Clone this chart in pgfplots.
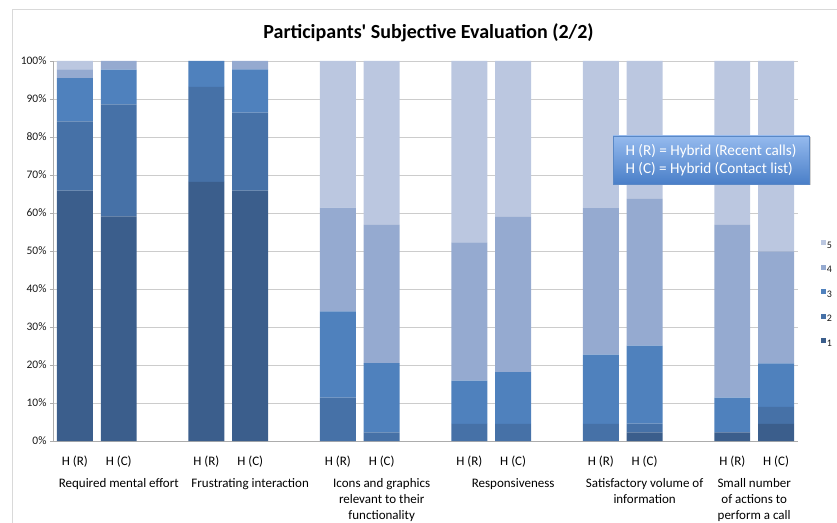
\documentclass[border=0pt]{standalone}
\usepackage{pgfplots}
\pgfplotsset{compat=1.18}
\usepackage{pgfplotstable}
\usepackage{fontspec}
\setmainfont{Carlito}
\usetikzlibrary{shadows}
\definecolor{c1}{HTML}{3B5E8C}
\definecolor{c2}{HTML}{4671A7}
\definecolor{c3}{HTML}{4F81BD}
\definecolor{c4}{HTML}{95AAD0}
\definecolor{c5}{HTML}{BBC7E0}
\definecolor{boxtop}{HTML}{95BAEE}
\definecolor{boxbot}{HTML}{4A7FC8}
\definecolor{boxline}{HTML}{5A88C6}

\pgfplotstableread{
x  l1   l2   l3   l4   l5
0  65.9 18.2 11.4 2.3  2.2
1  59.1 29.5 9.1  2.3  0
3  68.2 25.0 6.8  0    0
4  65.9 20.5 11.4 2.2  0
6  0    11.4 22.7 27.3 38.6
7  0    2.3  18.2 36.4 43.1
9  0    4.5  11.4 36.4 47.7
10 0    4.5  13.6 40.9 41.0
12 0    4.5  18.2 38.6 38.7
13 2.3  2.3  20.5 38.6 36.3
15 2.3  0    9.1  45.5 43.1
16 4.5  4.5  11.4 29.5 50.1
}\evaltable

\begin{document}
\begin{tikzpicture}
\useasboundingbox (0,0) rectangle (837bp,523bp);
\draw[gray!30, line width=0.8bp] (12bp,0) -- (12bp,514bp) -- (837bp,514bp);
\node[font=\bfseries\fontsize{20bp}{24bp}\selectfont] at (428.5bp,490bp) {Participants{\addfontfeature{Ligatures=TeXOff}'} Subjective Evaluation (2/2)};
\begin{axis}[
  at={(53bp,82bp)}, anchor=south west,
  width=745bp, height=380bp, scale only axis,
  xmin=-0.5, xmax=16.5, ymin=0, ymax=100,
  ybar stacked, bar width=0.82,
  clip=false,
  xtick={0,1,3,4,6,7,9,10,12,13,15,16},
  xticklabels={H (R),H (C),H (R),H (C),H (R),H (C),H (R),H (C),H (R),H (C),H (R),H (C)},
  x tick style={draw=none},
  ytick={0,10,...,100},
  yticklabel={\pgfmathprintnumber{\tick}\%},
  /pgf/number format/assume math mode=true,
  yticklabel style={font=\fontsize{11.5bp}{13bp}\selectfont, text=black!90},
  xticklabel style={font=\fontsize{13bp}{15bp}\selectfont, text=black, yshift=-8bp},
  axis x line*=bottom, axis y line*=left,
  axis line style={draw=gray!65, line width=0.8bp},
  y tick style={draw=gray!65, line width=0.8bp},
  tick align=outside, major tick length=3bp,
  ymajorgrids, major grid style={draw=gray!40, line width=0.9bp},
  legend image code/.code={\fill[#1] (0bp,0bp) rectangle (5bp,5bp);},
  legend style={at={(1.031,0.529)}, anchor=north west, draw=none, fill=none,
    font=\fontsize{10bp}{12bp}\selectfont, row sep=16bp, inner sep=0pt,
    nodes={inner sep=0.5bp, text height=6bp, text depth=0pt, text=black!90}},
  reverse legend,
]
\addplot[fill=c1, draw=none] table[x=x,y=l1] {\evaltable};
\addplot[fill=c2, draw=none] table[x=x,y=l2] {\evaltable};
\addplot[fill=c3, draw=none] table[x=x,y=l3] {\evaltable};
\addplot[fill=c4, draw=none] table[x=x,y=l4] {\evaltable};
\addplot[fill=c5, draw=none] table[x=x,y=l5] {\evaltable};
\legend{1,2,3,4,5}

\node[anchor=north, align=center, text=black, font=\fontsize{13bp}{16bp}\selectfont, inner sep=0pt, yshift=-37bp] at (axis cs:1,0) {Required mental effort};
\node[anchor=north, align=center, text=black, font=\fontsize{13bp}{16bp}\selectfont, inner sep=0pt, yshift=-37bp] at (axis cs:4,0) {Frustrating interaction};
\node[anchor=north, align=center, text=black, font=\fontsize{13bp}{16bp}\selectfont, inner sep=0pt, yshift=-37bp] at (axis cs:7,0) {Icons and graphics\\relevant to their\\functionality};
\node[anchor=north, align=center, text=black, font=\fontsize{13bp}{16bp}\selectfont, inner sep=0pt, yshift=-37bp] at (axis cs:10,0) {Responsiveness};
\node[anchor=north, align=center, text=black, font=\fontsize{13bp}{16bp}\selectfont, inner sep=0pt, yshift=-37bp] at (axis cs:13,0) {Satisfactory volume of\\information};
\node[anchor=north, align=center, text=black, font=\fontsize{13bp}{16bp}\selectfont, inner sep=0pt, yshift=-37bp] at (axis cs:15.5,0) {Small number\\of actions to\\perform a call};
\end{axis}
\node[draw=boxline, top color=boxtop, bottom color=boxbot,
  minimum width=196bp, minimum height=48bp, align=left, text=white,
  font=\fontsize{15.2bp}{18bp}\selectfont, inner sep=2bp,
  drop shadow={opacity=0.35, shadow xshift=1.5bp, shadow yshift=-1.5bp}]
  at (711bp,363bp) {H (R) = Hybrid (Recent calls)\\H (C) = Hybrid (Contact list)};
\end{tikzpicture}
\end{document}
